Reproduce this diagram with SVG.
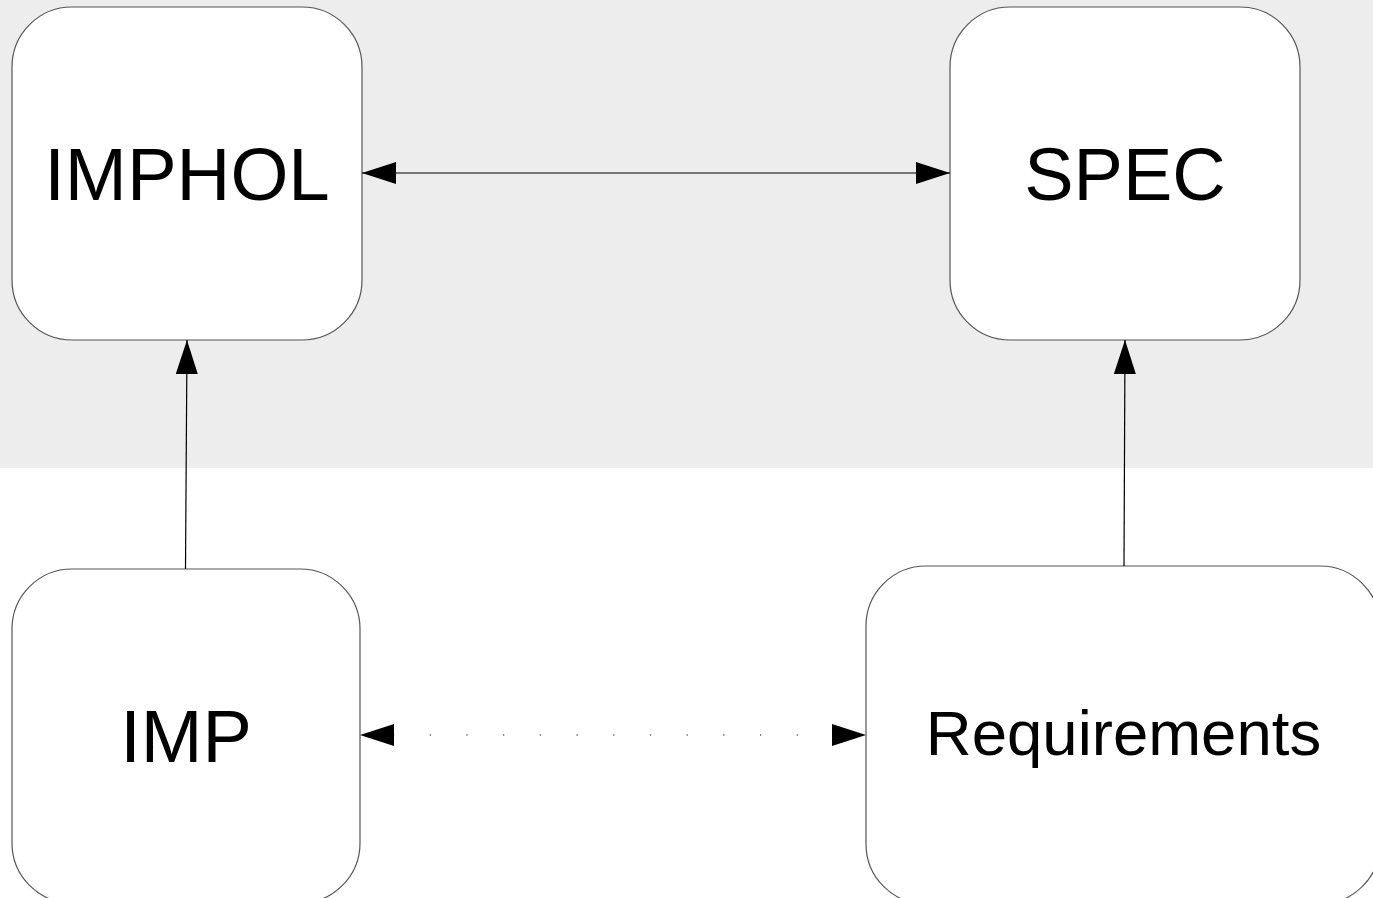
<svg xmlns="http://www.w3.org/2000/svg" width="1373" height="898" viewBox="0 0 1373 898">
<defs>
<style>
.box{fill:#fff;stroke:#555;stroke-width:1.2}
.lbl{font-family:"Liberation Sans",Arial,sans-serif;fill:#000;text-anchor:middle}
.con{stroke:#000;stroke-width:1.2;fill:none}
</style>
<marker id="ah" viewBox="0 0 34 22" refX="34" refY="11" markerWidth="34" markerHeight="22" markerUnits="userSpaceOnUse" orient="auto-start-reverse">
<path d="M0,0 L34,11 L0,22 Z" fill="#000"/>
</marker>
</defs>
<rect x="0" y="0" width="1373" height="468" fill="#ededed"/>
<g id="imphol">
<rect class="box" x="12" y="7" width="350" height="333" rx="60" ry="60"/>
<text class="lbl" x="187" y="200" font-size="74.5">IMPHOL</text>
</g>
<g id="spec">
<rect class="box" x="950" y="7" width="350" height="333" rx="60" ry="60"/>
<text class="lbl" x="1125" y="200" font-size="74">SPEC</text>
</g>
<g id="imp">
<rect class="box" x="12" y="569" width="348" height="334" rx="60" ry="60"/>
<text class="lbl" x="186" y="762" font-size="74">IMP</text>
</g>
<g id="requirements">
<rect class="box" x="866" y="566" width="514" height="338" rx="60" ry="60"/>
<text class="lbl" x="1123.5" y="755" font-size="63.5">Requirements</text>
</g>
<g id="connectors">
<line class="con" x1="362" y1="173" x2="950" y2="173" marker-start="url(#ah)" marker-end="url(#ah)"/>
<line class="con" x1="185.5" y1="569" x2="187" y2="340" marker-end="url(#ah)"/>
<line class="con" x1="1124" y1="566" x2="1125" y2="340" marker-end="url(#ah)"/>
<line x1="360" y1="735" x2="866" y2="735" stroke="#000" stroke-width="1.2" stroke-dasharray="1.2 35.5" stroke-dashoffset="-33" marker-start="url(#ah)" marker-end="url(#ah)"/>
</g>
</svg>
